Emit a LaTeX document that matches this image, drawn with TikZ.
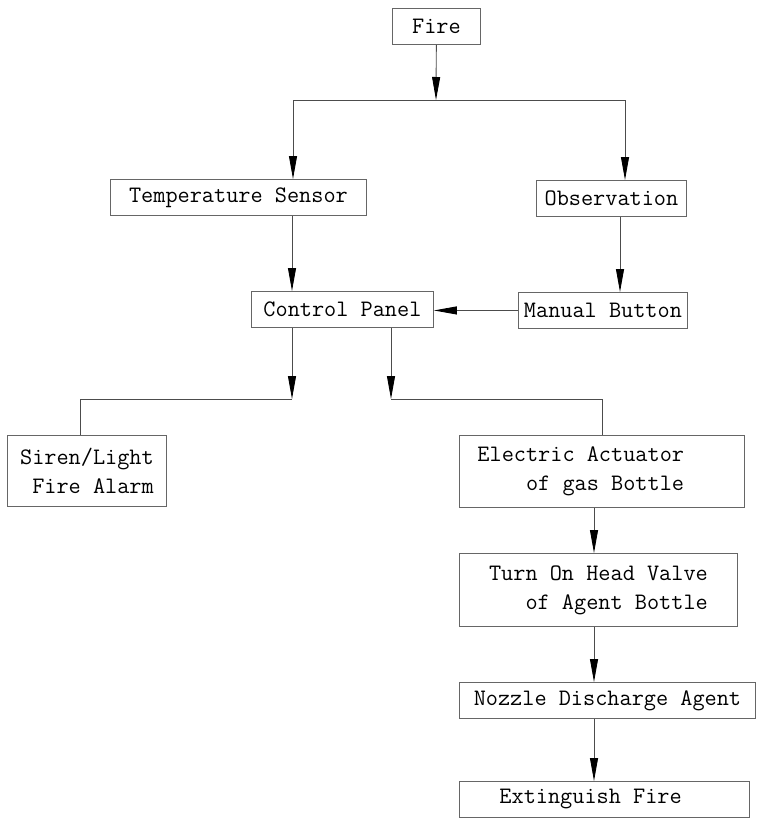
\documentclass[tikz,border=0pt]{standalone}
\usepackage{fontspec}
\usetikzlibrary{arrows.meta}
\begin{document}
\begin{tikzpicture}[x=1pt, y=-1pt,
    box/.style={draw=black!60, line width=0.9pt, anchor=north west, inner ysep=0pt, inner xsep=2pt,
        minimum height=36pt, font=\ttfamily\fontsize{23.6}{29}\selectfont},
    flow/.style={draw=black!70, line width=0.9pt, -{Triangle[length=23pt, width=8pt, color=black]}},
    wire/.style={draw=black!70, line width=0.9pt}]
    \useasboundingbox (0,0) rectangle (768,836);

    \node[box, minimum width=88pt] (fire) at (392,8) {Fire};
    \node[box, minimum width=256pt] (tempsensor) at (110,179) {Temperature Sensor};
    \node[box, minimum width=150pt] (observation) at (536,180) {Observation};
    \node[box, minimum width=182pt] (controlpanel) at (251,291) {Control Panel};
    \node[box, minimum width=169pt] (manualbutton) at (518,292) {Manual Button};
    \node[box, minimum width=159pt, minimum height=71pt, align=right] (alarm) at (7,435) {Siren/Light\\Fire Alarm};
    \node[box, inner xsep=18pt, text width=249pt, minimum height=72pt, align=flush left] (actuator) at (459,435)
        {Electric Actuator\\\hphantom{xxxx}of gas Bottle};
    \node[box, minimum width=278pt, minimum height=73pt, align=right] (headvalve) at (459,553)
        {Turn On Head Valve\\of Agent Bottle};
    \node[box, minimum width=296pt] (nozzle) at (459,682) {Nozzle Discharge Agent};
    \node[box, inner xsep=40pt, text width=210pt, align=flush left] (extinguish) at (459,781) {Extinguish Fire};

    % split points
    \coordinate (split) at (436,100);
    \coordinate (sl) at (293,100);
    \coordinate (sr) at (625,100);
    \coordinate (jl) at (292,399);
    \coordinate (jr) at (391,399);
    \coordinate (colO) at (620,0);
    \coordinate (colS) at (80,0);
    \coordinate (colV) at (594,0);

    \draw[flow] (fire) -- (split);
    \draw[wire] (sl) -- (sr);
    \draw[flow] (sl) -- (sl |- tempsensor.north);
    \draw[flow] (sr) -- (sr |- observation.north);
    \draw[flow] (tempsensor.south -| jl) -- (controlpanel.north -| jl);
    \draw[flow] (observation.south -| colO) -- (manualbutton.north -| colO);
    \draw[flow] (manualbutton.west) -- (manualbutton.west -| controlpanel.east);

    \draw[flow] (controlpanel.south -| jl) -- (jl);
    \draw[flow] (controlpanel.south -| jr) -- (jr);
    \draw[wire] (jl) -| (alarm.north -| colS);
    \draw[wire] (jr) -| (actuator.north);

    \draw[flow] (actuator.south -| colV) -- (headvalve.north -| colV);
    \draw[flow] (headvalve.south -| colV) -- (nozzle.north -| colV);
    \draw[flow] (nozzle.south -| colV) -- (extinguish.north -| colV);
\end{tikzpicture}
\end{document}
